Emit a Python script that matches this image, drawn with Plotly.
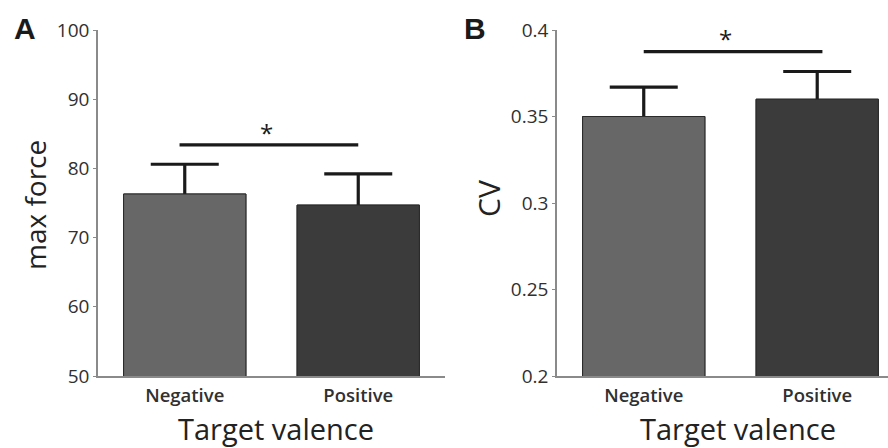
import plotly.graph_objects as go

categories = ["Negative", "Positive"]
max_force = [76.3, 74.7]
max_force_err = [4.3, 4.5]
cv = [0.350, 0.360]
cv_err = [0.017, 0.016]
bar_colors = ["#676767", "#3b3b3b"]
sig_a = {"x0": -0.03, "x1": 1.0, "y": 83.4, "star_x": 0.47, "star_y": 85.2}
sig_b = {"x0": 0.0, "x1": 1.03, "y": 0.3875, "star_y": 0.3952, "star_x": 0.47}

W, H = 888, 448
FONT = "Open Sans"

fig = go.Figure()

def add_panel(vals, errs, xa, ya):
    # bars with error bars, then the same bars drawn again on top to hide the lower half
    fig.add_trace(go.Bar(
        x=[0, 1], y=vals, width=0.705,
        marker=dict(color=bar_colors, line=dict(color="#2a2a2a", width=1)),
        error_y=dict(type="data", array=errs, color="#1a1a1a", thickness=3.2, width=34),
        xaxis=xa, yaxis=ya, showlegend=False, hoverinfo="skip"))
    fig.add_trace(go.Bar(
        x=[0, 1], y=vals, width=0.705,
        marker=dict(color=bar_colors, line=dict(color="#2a2a2a", width=1)),
        xaxis=xa, yaxis=ya, showlegend=False, hoverinfo="skip"))

add_panel(max_force, max_force_err, "x", "y")
add_panel(cv, cv_err, "x2", "y2")

ydom = [(H - 376) / H, (H - 30) / H]
axis_common = dict(showline=True, linecolor="#8a8a8a", linewidth=1.5, showgrid=False,
                   zeroline=False, automargin=False,
                   tickfont=dict(family=FONT, size=19, color="#303030"))
xfont = dict(family=FONT, size=18.5, color="#303030", weight=600)

fig.update_layout(
    width=W, height=H, margin=dict(l=0, r=0, t=0, b=0, pad=0, autoexpand=False),
    plot_bgcolor="white", paper_bgcolor="white", barmode="overlay",
    xaxis=dict(domain=[98 / W, 445 / W], range=[-0.5, 1.5], tickvals=[0, 1],
               ticktext=categories, ticks="", ticklabelstandoff=2, anchor="y",
               **{**axis_common, "tickfont": xfont}),
    yaxis=dict(domain=ydom, range=[50, 100], tickvals=[50, 60, 70, 80, 90, 100],
               ticks="outside", ticklen=3, tickcolor="#8a8a8a", anchor="x", **axis_common),
    xaxis2=dict(domain=[557 / W, 1.0], range=[-0.5, 1.408], tickvals=[0, 1],
                ticktext=categories, ticks="", ticklabelstandoff=2, anchor="y2",
                **{**axis_common, "tickfont": xfont}),
    yaxis2=dict(domain=ydom, range=[0.2, 0.4], tickvals=[0.2, 0.25, 0.3, 0.35, 0.4],
                ticktext=["0.2", "0.25", "0.3", "0.35", "0.4"],
                ticks="outside", ticklen=3, tickcolor="#8a8a8a", anchor="x2", **axis_common),
)

# significance bars
for s, xr, yr in [(sig_a, "x", "y"), (sig_b, "x2", "y2")]:
    fig.add_shape(type="line", xref=xr, yref=yr, x0=s["x0"], x1=s["x1"], y0=s["y"], y1=s["y"],
                  line=dict(color="#1a1a1a", width=3.2))
    fig.add_annotation(xref=xr, yref=yr, x=s["star_x"], y=s["star_y"], text="*", showarrow=False,
                       xanchor="center", yanchor="middle",
                       font=dict(family=FONT, size=24, color="#1a1a1a"))

def label(x, y, text, size, family=FONT, angle=0, color="#222222"):
    fig.add_annotation(xref="paper", yref="paper", x=x / W, y=1 - y / H, text=text,
                       textangle=angle, showarrow=False, xanchor="center", yanchor="middle",
                       font=dict(family=family, size=size, color=color))

# panel letters
label(25, 28, "<b>A</b>", 30, family="Liberation Sans", color="#1a1a1a")
label(475, 28, "<b>B</b>", 30, family="Liberation Sans", color="#1a1a1a")

# axis titles
label(276, 428, "Target valence", 29)
label(738, 428, "Target valence", 29)
label(35, 205, "max force", 28, angle=-90)
label(488, 199, "CV", 30, angle=-90)

fig.write_html("out.html")
